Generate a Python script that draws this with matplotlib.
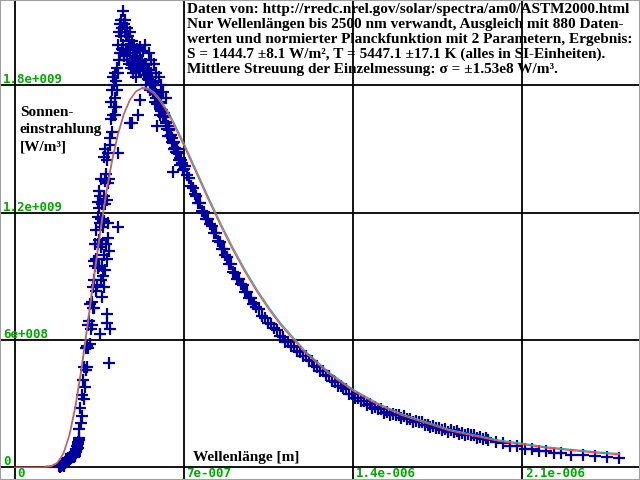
import numpy as np
import matplotlib
matplotlib.use('Agg')
import matplotlib.pyplot as plt
from matplotlib.transforms import offset_copy

uv_nm = [185, 187, 190, 192, 195, 197, 200, 202, 205, 207, 210, 212, 215, 218, 220, 222, 225, 228, 230,
         232, 235, 238, 240, 243, 245, 248, 250, 252, 255, 257, 258, 260, 262, 263, 265, 267, 268]
uv_val = [0.005, 0.0, 0.008, 0.005, 0.01, 0.015, 0.012, 0.008, 0.015, 0.02, 0.022, 0.03, 0.028, 0.025,
          0.035, 0.045, 0.045, 0.04, 0.05, 0.06, 0.045, 0.05, 0.055, 0.065, 0.05, 0.055, 0.06, 0.07, 0.075,
          0.085, 0.10, 0.09, 0.12, 0.11, 0.14, 0.13, 0.18]

rise_nm = [272, 275, 278, 280, 283, 285, 288, 290, 293, 296, 298, 300, 303, 305, 308, 310, 313, 315, 318,
           320, 323, 325, 328, 330, 333, 335, 338, 340, 343, 345, 348, 350, 353, 355, 358, 360, 363, 365,
           368, 370, 373, 375, 378, 380, 383, 385, 388, 390, 393]
rise_val = [0.28, 0.21, 0.34, 0.24, 0.41, 0.32, 0.47, 0.38, 0.56, 0.46, 0.57, 0.47, 0.67, 0.56, 0.69, 0.58,
            0.77, 0.65, 0.78, 0.67, 0.85, 0.75, 0.88, 0.75, 0.95, 0.83, 0.98, 0.86, 1.05, 0.94, 1.07, 0.95,
            1.15, 1.04, 1.17, 1.05, 1.24, 1.13, 1.28, 1.16, 1.35, 1.24, 1.38, 1.26, 1.45, 1.34, 1.48, 1.36,
            1.52]

# breitere Streuung im Anstieg (Absorptionslinien)
rise2_nm = [328, 334, 338, 344, 346, 349, 350, 354, 356, 358, 361, 362, 366, 368, 370, 371, 374, 374, 377,
            382, 384, 386, 391]
rise2_val = [0.97, 1.05, 1.12, 1.18, 1.25, 1.22, 1.30, 1.28, 1.36, 0.88, 0.80, 0.95, 0.90, 1.46, 0.85, 1.00,
             0.93, 1.50, 1.05, 0.98, 1.15, 1.08, 1.02]

peak_nm = [395, 397, 399, 401, 403, 405, 407, 409, 411, 413, 415, 417, 419, 421, 423, 425, 427, 429, 431,
           433, 435, 437, 439, 441, 443, 445, 447, 449, 451, 453, 455, 457, 459, 461, 463, 465, 467, 469,
           471, 473, 475, 477, 479, 481, 483, 485, 487, 489, 491, 493, 495, 497, 499, 501, 503, 505]
peak_val = [1.55, 1.64, 1.72, 1.58, 1.78, 1.66, 1.84, 1.70, 1.80, 1.66, 1.86, 1.74, 1.82, 1.70, 1.88, 1.78,
            1.99, 1.86, 2.05, 1.92, 2.09, 1.95, 2.03, 2.11, 1.97, 2.07, 2.15, 1.99, 2.09, 1.94, 2.05, 2.11,
            1.97, 2.03, 1.92, 2.07, 1.97, 2.03, 1.90, 2.01, 1.95, 2.05, 1.92, 1.99, 1.88, 2.01, 1.90, 1.97,
            1.86, 1.95, 1.99, 1.88, 1.95, 1.84, 1.93, 1.97]

# breitere Streuung rechts vom Maximum
peak2_nm = [520, 530, 540, 545, 555, 560, 565, 575, 580, 585, 595, 600, 605, 615, 625]
peak2_val = [1.98, 1.96, 1.99, 1.80, 1.95, 1.78, 1.92, 1.90, 1.72, 1.86, 1.84, 1.66, 1.80, 1.77, 1.74]

fall_nm = [508, 511, 514, 517, 520, 523, 526, 529, 532, 535, 538, 541, 544, 547, 550, 553, 556, 559, 562,
           565, 568, 571, 574, 577, 580, 583, 586, 589, 592, 595, 598, 601, 604, 607, 610, 613, 616, 619,
           622, 625, 628, 631, 634, 637, 640, 643, 646, 649, 652, 655, 658, 661, 664, 667, 670, 673, 676,
           679, 682, 685, 688, 691, 694, 697, 700]
fall_val = [1.94, 1.89, 1.91, 1.87, 1.92, 1.89, 1.92, 1.87, 1.89, 1.85, 1.90, 1.87, 1.90, 1.85, 1.87, 1.83,
            1.87, 1.84, 1.86, 1.80, 1.82, 1.77, 1.81, 1.78, 1.80, 1.74, 1.76, 1.71, 1.75, 1.72, 1.74, 1.69,
            1.715, 1.68, 1.685, 1.655, 1.67, 1.65, 1.655, 1.62, 1.625, 1.595, 1.61, 1.59, 1.595, 1.56, 1.565,
            1.535, 1.55, 1.53, 1.535, 1.50, 1.505, 1.485, 1.50, 1.48, 1.485, 1.45, 1.455, 1.425, 1.45, 1.43,
            1.435, 1.40, 1.405]

ir_nm = [704, 712, 720, 728, 736, 744, 752, 760, 768, 776, 784, 792, 800, 808, 816, 824, 832, 840, 848,
         856, 864, 872, 880, 888, 896, 904, 912, 920, 928, 936, 944, 952, 960, 968, 976, 984, 992, 1000]
ir_val = [1.418, 1.375, 1.363, 1.324, 1.316, 1.289, 1.280, 1.245, 1.244, 1.207, 1.202, 1.172, 1.171, 1.146,
          1.139, 1.105, 1.105, 1.068, 1.062, 1.029, 1.027, 1.000, 0.992, 0.958, 0.957, 0.921, 0.915, 0.886,
          0.886, 0.863, 0.857, 0.825, 0.828, 0.796, 0.796, 0.770, 0.774, 0.754]

nir_nm = [1012, 1024, 1036, 1048, 1060, 1072, 1084, 1096, 1108, 1120, 1132, 1144, 1156, 1168, 1180, 1192,
          1204, 1216, 1228, 1240, 1252, 1264, 1276, 1288, 1300, 1312, 1324, 1336, 1348, 1360, 1372, 1384,
          1396, 1408, 1420, 1432, 1444, 1456, 1468, 1480, 1492, 1504, 1516, 1528, 1540, 1552, 1564, 1576,
          1588, 1600]
nir_val = [0.744, 0.715, 0.704, 0.678, 0.673, 0.655, 0.646, 0.620, 0.613, 0.590, 0.588, 0.573, 0.568, 0.546,
           0.542, 0.523, 0.522, 0.507, 0.502, 0.479, 0.474, 0.454, 0.452, 0.436, 0.430, 0.407, 0.402, 0.384,
           0.384, 0.371, 0.367, 0.346, 0.343, 0.326, 0.326, 0.313, 0.313, 0.295, 0.296, 0.281, 0.284, 0.274,
           0.273, 0.256, 0.258, 0.246, 0.252, 0.244, 0.246, 0.231]

tail_nm = [1612, 1624, 1636, 1648, 1660, 1672, 1684, 1696, 1708, 1720, 1732, 1744, 1756, 1768, 1780, 1792,
           1804, 1816, 1828, 1840, 1852, 1864, 1876, 1888, 1900, 1912, 1924, 1936, 1948, 1960, 1990, 2020,
           2050, 2080, 2110, 2140, 2170, 2200, 2230, 2260, 2300, 2350, 2400, 2450, 2500]
tail_val = [0.239, 0.225, 0.226, 0.214, 0.220, 0.212, 0.213, 0.199, 0.201, 0.188, 0.194, 0.186, 0.187, 0.174,
            0.178, 0.168, 0.175, 0.168, 0.171, 0.158, 0.161, 0.150, 0.157, 0.150, 0.152, 0.139, 0.142, 0.131,
            0.138, 0.130, 0.118, 0.112, 0.100, 0.098, 0.088, 0.086, 0.078, 0.075, 0.068, 0.066, 0.058, 0.057,
            0.052, 0.050, 0.045]

# Fraunhofer-Linien (einzelne Ausreisser)
lines_nm = [352, 380, 382, 393, 389, 426, 426, 476, 484, 509, 517, 587, 633, 654]
lines_val = [0.63, 0.72, 0.68, 0.65, 0.49, 1.13, 1.48, 1.62, 1.62, 1.66, 1.73, 1.61, 1.56, 1.39]

# Ausgleichskurve (normierte Planckfunktion, S = 1444.7 W/m^2, T = 5447.1 K), W/m^2/nm
fit_nm = [0, 50, 100, 125, 150, 175, 200, 225, 250, 275, 300, 325, 350, 375, 400, 425, 450, 475, 500, 525,
          550, 575, 600, 625, 650, 700, 750, 800, 850, 900, 950, 1000, 1050, 1100, 1200, 1300, 1400, 1500,
          1600, 1800, 2000, 2200, 2400, 2500]
fit_val = [0, 0, 0.0, 0.0002, 0.0032, 0.0184, 0.0622, 0.1497, 0.2859, 0.4640, 0.6687, 0.8823, 1.0888,
           1.2758, 1.4357, 1.5646, 1.6617, 1.7289, 1.7690, 1.7848, 1.7810, 1.7606, 1.7269, 1.6834, 1.6321,
           1.5150, 1.3893, 1.2634, 1.1424, 1.0292, 0.9253, 0.8310, 0.7460, 0.6699, 0.5416, 0.4400, 0.3597,
           0.2960, 0.2452, 0.1717, 0.1232, 0.0905, 0.0678, 0.0591]

x_ticks = [0, 7e-7, 1.4e-6, 2.1e-6]
x_labels = ['0', '7e-007', '1.4e-006', '2.1e-006']
y_ticks = [0, 6e8, 1.2e9, 1.8e9]
y_labels = ['0', '6e+008', '1.2e+009', '1.8e+009']

header = [
    'Daten von: http://rredc.nrel.gov/solar/spectra/am0/ASTM2000.html',
    'Nur Wellenlängen bis 2500 nm verwandt, Ausgleich mit 880 Daten-',
    'werten und normierter Planckfunktion mit 2 Parametern, Ergebnis:',
    'S = 1444.7 ±8.1 W/m², T = 5447.1 ±17.1 K (alles in SI-Einheiten).',
    'Mittlere Streuung der Einzelmessung: σ = ±1.53e8 W/m³.',
]
ylabel_lines = ['Sonnen-', 'einstrahlung', '[W/m³]']

wl = np.array(uv_nm + rise_nm + rise2_nm + peak_nm + peak2_nm + fall_nm + ir_nm + nir_nm + tail_nm
              + lines_nm) * 1e-9
irr = np.array(uv_val + rise_val + rise2_val + peak_val + peak2_val + fall_val + ir_val + nir_val
               + tail_val + lines_val) * 1e9
fit_x = np.array(fit_nm) * 1e-9
fit_y = np.array(fit_val) * 1e9

W, H = 640, 480
fig = plt.figure(figsize=(W / 100, H / 100), dpi=100)
ax = fig.add_axes([0, 0, 1, 1])
ax.set_xlim(-6.08e-8, 2.587e-6)
ax.set_ylim(-6.03e7, 2.202e9)
ax.set_xticks([])
ax.set_yticks([])
for s in ax.spines.values():
    s.set_color('#a0a0a0')
    s.set_linewidth(1.5)

for v in x_ticks:
    ax.axvline(v, color='black', lw=1.3, zorder=1)
for v in y_ticks:
    ax.axhline(v, color='black', lw=1.3, zorder=1)

ax.plot(wl, irr, '+', color='#0000a0', ms=8.5, mew=1.6, zorder=3)
# zweite Kurve um 1 Pixel versetzt, wie im Original
shifted = offset_copy(ax.transData, fig=fig, x=0.8, y=1.0, units='dots')
ax.plot(fit_x[3:], fit_y[3:], color='#20b0b0', lw=0.9, zorder=4, transform=shifted)
ax.plot(fit_x, fit_y, color='#ff4848', lw=0.9, zorder=5)

mono = dict(family='DejaVu Sans Mono', weight='bold', size=9, color='#00a800')
for v, lab in zip(y_ticks, y_labels):
    ax.annotate(lab, xy=(3 / W, v), xycoords=('axes fraction', 'data'), xytext=(0, 5.5),
                textcoords='offset pixels', ha='left', va='center', zorder=6, **mono)
for v, lab in zip(x_ticks, x_labels):
    ax.annotate(lab, xy=(v, 0), xycoords='data', xytext=(2.5, -6.5),
                textcoords='offset pixels', ha='left', va='center', zorder=6, **mono)

serif = dict(family='Liberation Serif', weight='bold', size=11, color='black')
for i, line in enumerate(header):
    fig.text(187 / W, 1 - (9.5 + 15 * i) / H, line, ha='left', va='center', **serif)
for i, line in enumerate(ylabel_lines):
    fig.text(20 / W, 1 - (113 + 17 * i) / H, line, ha='left', va='center', **serif)
fig.text(193 / W, 1 - 457 / H, 'Wellenlänge [m]', ha='left', va='center', **serif)

fig.savefig('out.png', dpi=100)
